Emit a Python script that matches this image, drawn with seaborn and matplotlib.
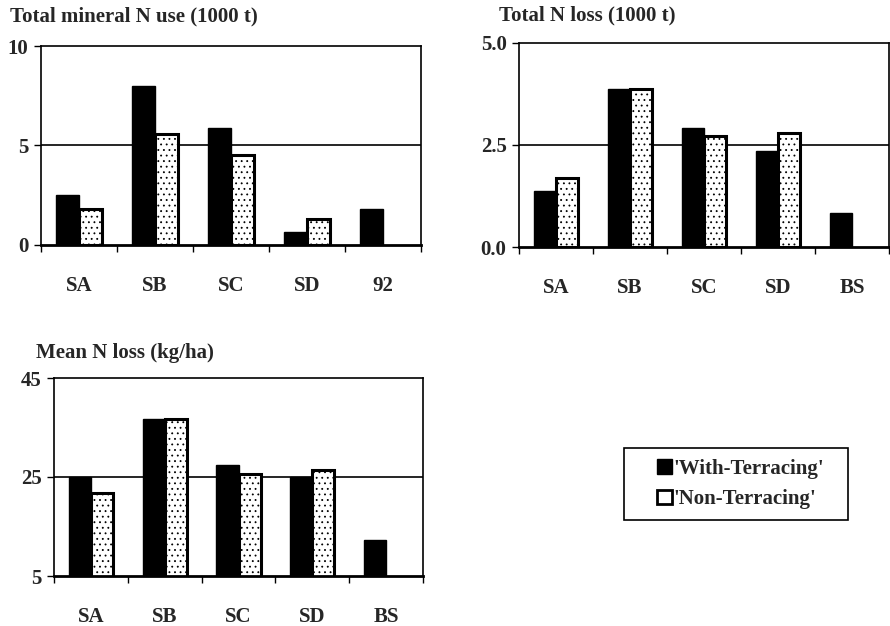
import numpy as np
import pandas as pd
import matplotlib
matplotlib.use("Agg")
import matplotlib.pyplot as plt
import seaborn as sns
from matplotlib.patches import Patch, Rectangle

sns.set_theme(style="white")
plt.rcParams["font.family"] = ["Liberation Serif", "DejaVu Serif"]
plt.rcParams["font.weight"] = "bold"
plt.rcParams["hatch.linewidth"] = 0.6
plt.rcParams["hatch.color"] = "black"

# Scenario groups and values for the two land-use alternatives
series_names = ["'With-Terracing'", "'Non-Terracing'"]

use_cats = ["SA", "SB", "SC", "SD", "92"]
use_with = [2.5, 8.0, 5.9, 0.65, 1.8]
use_non = [1.8, 5.6, 4.5, 1.3, np.nan]

loss_cats = ["SA", "SB", "SC", "SD", "BS"]
loss_with = [1.38, 3.87, 2.91, 2.35, 0.84]
loss_non = [1.68, 3.87, 2.72, 2.80, np.nan]

mean_cats = ["SA", "SB", "SC", "SD", "BS"]
mean_with = [25.1, 36.7, 27.5, 24.9, 12.3]
mean_non = [21.7, 36.7, 25.6, 26.4, np.nan]

FS = 15
W, H = 890, 626


def frame(cats, a, b):
    return pd.DataFrame({
        "group": cats * 2,
        "series": [series_names[0]] * len(cats) + [series_names[1]] * len(cats),
        "value": list(a) + list(b),
    })


def panel(rect_px, cats, a, b, ylim, yticks, yticklabels, mid, title, title_xy):
    l, t, r, btm = rect_px
    ax = fig.add_axes([l / W, 1 - btm / H, (r - l) / W, (btm - t) / H])
    df = frame(cats, a, b)
    sns.barplot(data=df, x="group", y="value", hue="series", order=cats,
                hue_order=series_names, width=0.6, ax=ax, legend=False,
                saturation=1)
    for bar in ax.containers[0]:
        bar.set_facecolor("black")
        bar.set_edgecolor("black")
        bar.set_linewidth(1)
    for bar in ax.containers[1]:
        bar.set_facecolor("white")
        bar.set_edgecolor("black")
        bar.set_hatch("...")
        bar.set_linewidth(2.2)
    ax.set_xlim(-0.5, len(cats) - 0.5)
    ax.set_ylim(*ylim)
    ax.axhline(mid, color="black", lw=1.2, zorder=0)
    ax.set_yticks(yticks)
    ax.set_yticklabels(yticklabels, fontsize=FS)
    ax.set_xticks(range(len(cats)))
    ax.set_xticklabels(cats, fontsize=FS)
    ax.set_xticks(np.arange(-0.5, len(cats)), minor=True)
    ax.tick_params(axis="x", which="major", length=0, pad=22)
    ax.tick_params(axis="x", which="minor", length=5, width=1, direction="out",
                   color="black", bottom=True)
    ax.tick_params(axis="y", length=5, width=1, direction="out", color="black",
                   left=True, pad=4)
    ax.set_xlabel("")
    ax.set_ylabel("")
    for side, sp in ax.spines.items():
        sp.set_visible(True)
        sp.set_color("black")
        sp.set_linewidth(1.2)
    ax.spines["bottom"].set_linewidth(2)
    fig.text(title_xy[0] / W, 1 - title_xy[1] / H, title, fontsize=FS,
             ha="left", va="center")
    return ax


fig = plt.figure(figsize=(W / 100, H / 100), dpi=100)

panel((41, 46, 421, 245), use_cats, use_with, use_non, (0, 10),
      [0, 5, 10], ["0", "5", "10"], 5, "Total mineral N use (1000 t)", (10, 16))
panel((519, 43, 889, 247), loss_cats, loss_with, loss_non, (0, 5),
      [0, 2.5, 5], ["0.0", "2.5", "5.0"], 2.5, "Total N loss (1000 t)", (499, 15))
panel((54, 378, 423, 576), mean_cats, mean_with, mean_non, (5, 45),
      [5, 25, 45], ["5", "25", "45"], 25, "Mean N loss (kg/ha)", (36, 353))

# Legend box drawn separately so it can carry wide side margins
fig.patches.append(Rectangle((624 / W, 1 - 520 / H), 224 / W, 72 / H,
                             transform=fig.transFigure, facecolor="white",
                             edgecolor="black", linewidth=1.2, zorder=1))
handles = [
    Patch(facecolor="black", edgecolor="black", label=series_names[0]),
    Patch(facecolor="white", edgecolor="black", linewidth=2, label=series_names[1]),
]
leg = fig.legend(handles=handles, loc="upper left",
                 bbox_to_anchor=(657 / W, 1 - 459 / H), fontsize=FS,
                 frameon=False, handlelength=0.7, handleheight=0.7,
                 handletextpad=0.1, borderpad=0.0, labelspacing=0.5,
                 borderaxespad=0)
leg.set_zorder(2)

fig.savefig("out.png", dpi=100, facecolor="white")
